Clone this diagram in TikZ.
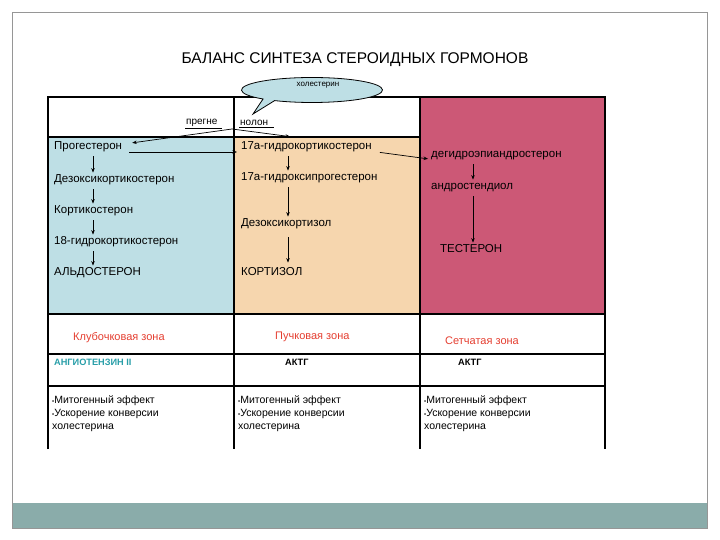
\documentclass[tikz,border=0pt]{standalone}
\usepackage{fontspec}
\setmainfont{Liberation Sans}
\usetikzlibrary{calc,arrows.meta}
\definecolor{cblue}{RGB}{190,223,229}
\definecolor{cpeach}{RGB}{246,214,174}
\definecolor{cpink}{RGB}{204,88,118}
\definecolor{cband}{RGB}{138,172,170}
\definecolor{cframe}{RGB}{150,150,150}
\definecolor{cred}{RGB}{228,62,48}
\definecolor{cteal}{RGB}{40,158,168}
\begin{document}
\begin{tikzpicture}[x=1pt,y=-1pt,
  txt/.style={inner sep=1pt,anchor=west,text height=8pt,text depth=2.4pt,font=\fontsize{11.5}{13}\selectfont},
  small/.style={inner sep=1pt,anchor=west,font=\fontsize{10}{12}\selectfont},
  zone/.style={inner sep=1pt,anchor=west,text=cred,font=\fontsize{11}{13}\selectfont},
  hormone/.style={inner sep=1pt,anchor=west,font=\fontsize{9.2}{11}\selectfont\bfseries},
  effect/.style={inner sep=1pt,anchor=north west,align=left,font=\fontsize{10.5}{13}\selectfont},
  arr/.style={-{Stealth[length=4.5pt,width=3.5pt]},line width=0.7pt,shorten <=3pt,shorten >=1pt},
  grid/.style={line width=1.8pt},
  thingrid/.style={line width=1.1pt}]
\useasboundingbox (0,0) rectangle (720,540);
% slide frame and bottom band
\fill[cband] (12.5,503) rectangle (707,528);
\draw[cframe,line width=0.9pt] (12.5,12.5) rectangle (707,528);
% title
\node[inner sep=0pt,font=\fontsize{15.5}{18}\selectfont] (title) at (355,60) {БАЛАНС СИНТЕЗА СТЕРОИДНЫХ ГОРМОНОВ};
% column fills
\fill[cblue] (48,137) rectangle (234,314);
\fill[cpeach] (234,137) rectangle (420,314);
\fill[cpink] (420,97) rectangle (605,314);
% table lines
\draw[grid] (48,449) -- (48,97) -- (605,97) -- (605,449);
\draw[grid] (234,97) -- (234,449);
\draw[grid] (420,97) -- (420,449);
\draw[thingrid] (48,137) -- (420,137);
\draw[grid] (48,314) -- (605,314);
\draw[thingrid] (48,354) -- (605,354);
\draw[grid] (48,386) -- (605,386);
% callout (ellipse with tail)
\coordinate (cc) at (312,90);
\coordinate (tip) at (253,114);
\draw[fill=cblue,line width=0.8pt,line join=miter] (tip) -- ($(cc)+(134:70.5 and 12.5)$)
  arc[start angle=134,end angle=482,x radius=70.5,y radius=12.5] -- cycle;
\node[inner sep=0pt,font=\fontsize{8}{9}\selectfont] (choltext) at (318,85) {холестерин};
% pregnenolone
\node[small] (preg1) at (185,123) {прегне};
\node[small] (preg2) at (239,123) {нолон};
\draw[line width=0.6pt] (preg1.south west) -- ([xshift=3pt]preg1.south east);
\draw[line width=0.6pt] (preg2.south west) -- ([xshift=5pt]preg2.south east);
\coordinate (apex) at (232,129);
\coordinate (c1) at (93,0);
\coordinate (c2) at (288,0);
\coordinate (c3) at (473,0);
% column 1
\node[txt] (prog) at (53,147) {Прогестерон};
\node[txt] (dezo) at (53,180) {Дезоксикортикостерон};
\node[txt] (kort) at (53,211) {Кортикостерон};
\node[txt] (h18) at (53,242) {18-гидрокортикостерон};
\node[txt] (aldo) at (53,273) {АЛЬДОСТЕРОН};
% column 2
\node[txt] (h17) at (240,147) {17a-гидрокортикостерон};
\node[txt] (hp17) at (240,178) {17a-гидроксипрогестерон};
\node[txt] (dezk) at (240,224) {Дезоксикортизол};
\node[txt] (kortiz) at (240,273) {КОРТИЗОЛ};
% column 3
\node[txt] (dhea) at (430,155) {дегидроэпиандростерон};
\node[txt] (andr) at (430,187) {андростендиол};
\node[txt] (test) at (439,250) {ТЕСТЕРОН};
% arrows
\draw[arr,shorten <=0pt] (apex) -- ([shift={(8,-4)}]prog.east);
\draw[arr,shorten <=0pt,shorten >=0pt] (apex) -- ([shift={(50,-4)}]h17.north west);
\draw[arr] ([shift={(3,5)}]prog.east) -- ([shift={(-2,5)}]h17.west);
\draw[arr] ([shift={(4,5)}]h17.east) -- ([shift={(-1,4)}]dhea.west);
\draw[arr] (prog.south -| c1) -- (dezo.north -| c1);
\draw[arr] (dezo.south -| c1) -- (kort.north -| c1);
\draw[arr] (kort.south -| c1) -- (h18.north -| c1);
\draw[arr] (h18.south -| c1) -- (aldo.north -| c1);
\draw[arr] (h17.south -| c2) -- (hp17.north -| c2);
\draw[arr] (hp17.south -| c2) -- (dezk.north -| c2);
\draw[arr,shorten <=7pt,shorten >=4pt] (dezk.south -| c2) -- (kortiz.north -| c2);
\draw[arr] (dhea.south -| c3) -- (andr.north -| c3);
\draw[arr] (andr.south -| c3) -- (test.north -| c3);
% zones
\node[zone] (z1) at (72,338) {Клубочковая зона};
\node[zone] (z2) at (274,337) {Пучковая зона};
\node[zone] (z3) at (444,341) {Сетчатая зона};
% stimulators
\node[hormone,text=cteal] (ang) at (53,362) {АНГИОТЕНЗИН II};
\node[hormone] (act1) at (284,362) {АКТГ};
\node[hormone] (act2) at (457,362) {АКТГ};
% effects
\node[effect] (e1) at (51,395) {{\fontsize{6}{6}\selectfont•}Митогенный эффект\\{\fontsize{6}{6}\selectfont•}Ускорение конверсии\\холестерина};
\node[effect] (e2) at (237,395) {{\fontsize{6}{6}\selectfont•}Митогенный эффект\\{\fontsize{6}{6}\selectfont•}Ускорение конверсии\\холестерина};
\node[effect] (e3) at (423,395) {{\fontsize{6}{6}\selectfont•}Митогенный эффект\\{\fontsize{6}{6}\selectfont•}Ускорение конверсии\\холестерина};
\end{tikzpicture}
\end{document}
